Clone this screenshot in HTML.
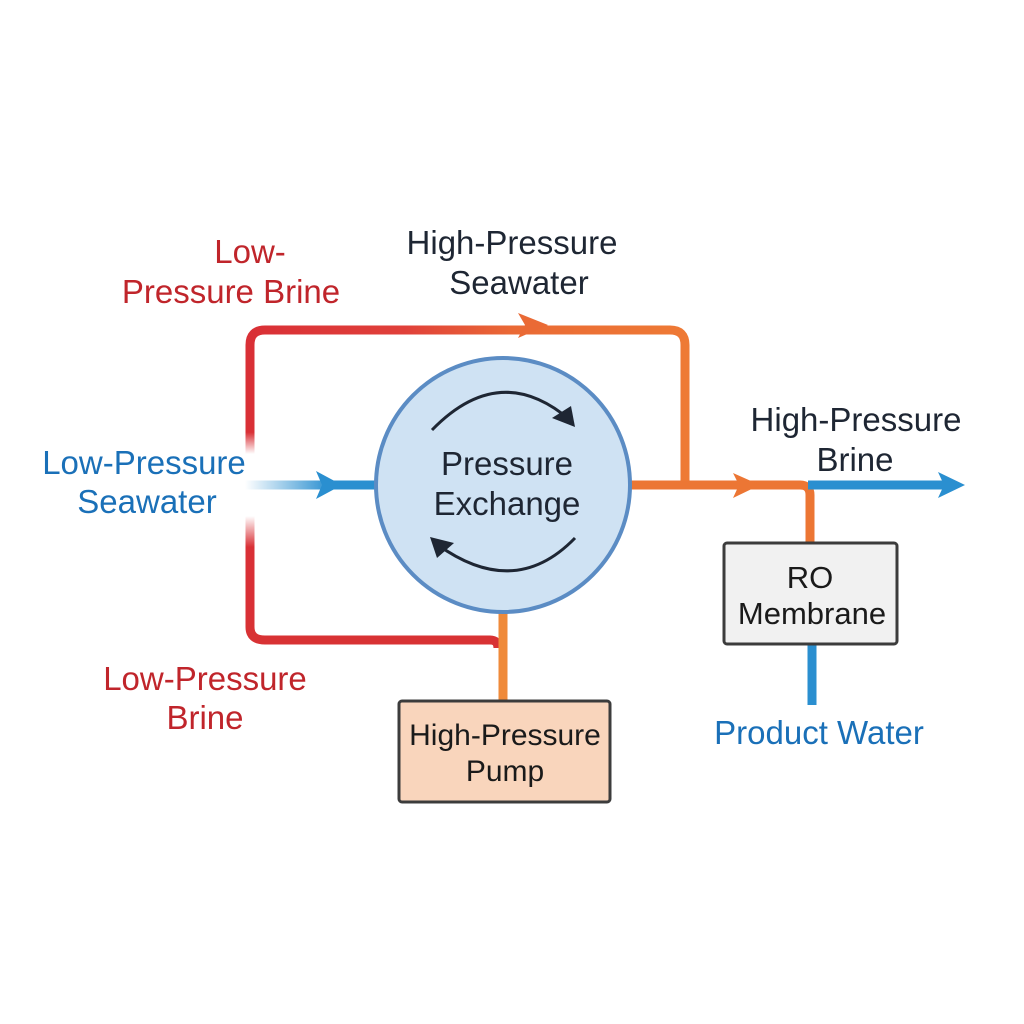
<!DOCTYPE html>
<html><head><meta charset="utf-8"><style>
html,body{margin:0;padding:0;background:#fff;}
svg{display:block;}
text{font-family:"Liberation Sans",sans-serif;}
</style></head><body>
<svg width="1024" height="1024" viewBox="0 0 1024 1024">
<defs>
<linearGradient id="top" x1="250" y1="0" x2="690" y2="0" gradientUnits="userSpaceOnUse">
<stop offset="0" stop-color="#d93036"/><stop offset="0.35" stop-color="#e0403a"/><stop offset="0.6" stop-color="#ea6a35"/><stop offset="1" stop-color="#ee7a35"/></linearGradient>
<linearGradient id="blueIn" x1="245" y1="0" x2="330" y2="0" gradientUnits="userSpaceOnUse">
<stop offset="0" stop-color="#2a8fd0" stop-opacity="0"/><stop offset="1" stop-color="#2a8fd0"/></linearGradient>
<linearGradient id="leftv" x1="0" y1="330" x2="0" y2="640" gradientUnits="userSpaceOnUse">
<stop offset="0" stop-color="#d93036"/><stop offset="0.33" stop-color="#d93036"/><stop offset="0.4" stop-color="#d93036" stop-opacity="0"/><stop offset="0.6" stop-color="#d93036" stop-opacity="0"/><stop offset="0.7" stop-color="#d93036"/><stop offset="1" stop-color="#d93036"/></linearGradient>
</defs>
<g fill="none" stroke-width="9" stroke-linejoin="round">
<path d="M250,350 V620" stroke="url(#leftv)"/>
<path d="M250,352 V345 Q250,330 265,330 H670 Q685,330 685,345 V485" stroke="url(#top)"/>
<path d="M250,620 V627 Q250,640 265,640 H490 Q498,640 498,648" stroke="#d83234"/>
<path d="M245,485 H376" stroke="url(#blueIn)"/>
<path d="M630,485 H800 Q810,485 810,495 V545" stroke="#ec7634"/>
<path d="M503,612 V700" stroke="#ef8a3a"/>
<path d="M808,485 H945" stroke="#2a8fd0"/>
<path d="M812,644 V705" stroke="#2a8fd0"/>
</g>
<polygon points="965,485 938,472 944,485 938,498" fill="#2a8fd0"/>
<polygon points="342,485 316,471 322,485 316,499" fill="#2a8fd0"/>
<polygon points="548,325 518,313 525,325 518,338" fill="#ea6a35"/>
<polygon points="760,485 733,473 739,485 733,498" fill="#ec7634"/>
<circle cx="503" cy="485" r="127" fill="#cfe2f3" stroke="#5b8cc4" stroke-width="4"/>
<path d="M432,430 Q500,360 570,420" fill="none" stroke="#1e2633" stroke-width="3"/>
<polygon points="575,427 552,418 571,406" fill="#1e2633"/>
<path d="M575,538 Q515,600 438,545" fill="none" stroke="#1e2633" stroke-width="3"/>
<polygon points="430,537 454,543 437,558" fill="#1e2633"/>
<text x="507" y="475" font-size="33" text-anchor="middle" fill="#1e2633">Pressure</text>
<text x="507" y="515" font-size="33" text-anchor="middle" fill="#1e2633">Exchange</text>
<rect x="724" y="543" width="173" height="101" rx="3" fill="#f1f1f1" stroke="#3c3c3c" stroke-width="3"/>
<text x="810" y="588" font-size="31" text-anchor="middle" fill="#1a1a1a">RO</text>
<text x="812" y="624" font-size="31" text-anchor="middle" fill="#1a1a1a">Membrane</text>
<rect x="399" y="701" width="211" height="101" rx="3" fill="#f9d5bc" stroke="#3c3c3c" stroke-width="3"/>
<text x="505" y="745" font-size="30" text-anchor="middle" fill="#1a1a1a">High-Pressure</text>
<text x="505" y="781" font-size="30" text-anchor="middle" fill="#1a1a1a">Pump</text>
<g font-size="33">
<text x="250" y="263" text-anchor="middle" fill="#c0252b">Low-</text>
<text x="231" y="303" text-anchor="middle" fill="#c0252b">Pressure Brine</text>
<text x="512" y="254" text-anchor="middle" fill="#1e2633">High-Pressure</text>
<text x="519" y="294" text-anchor="middle" fill="#1e2633">Seawater</text>
<text x="144" y="474" text-anchor="middle" fill="#1a70b8">Low-Pressure</text>
<text x="147" y="513" text-anchor="middle" fill="#1a70b8">Seawater</text>
<text x="856" y="431" text-anchor="middle" fill="#1e2633">High-Pressure</text>
<text x="855" y="471" text-anchor="middle" fill="#1e2633">Brine</text>
<text x="205" y="690" text-anchor="middle" fill="#c0252b">Low-Pressure</text>
<text x="205" y="729" text-anchor="middle" fill="#c0252b">Brine</text>
<text x="819" y="744" text-anchor="middle" fill="#1a70b8">Product Water</text>
</g>
</svg>
</body></html>
